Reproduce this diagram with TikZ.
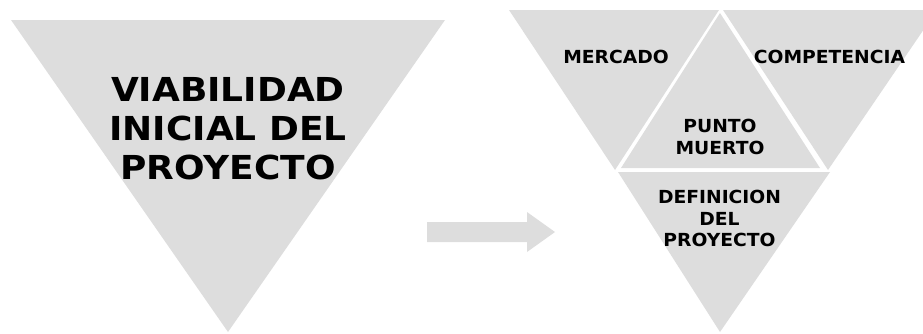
\documentclass[tikz,border=0pt]{standalone}
\usepackage{fontspec}
\setmainfont{DejaVu Sans}
\newfontfamily\bigfont[FakeStretch=1.09]{DejaVu Sans}
\newfontfamily\smallfont[FakeStretch=1.04]{DejaVu Sans}
\definecolor{tri}{HTML}{DDDDDD}
\begin{document}
\begin{tikzpicture}[x=1pt,y=-1pt,
  shape fill/.style={fill=tri, draw=none},
  biglbl/.style={font=\bigfont\bfseries\fontsize{33}{39}\selectfont, align=center, inner sep=0pt},
  lbl/.style={font=\smallfont\bfseries\fontsize{18}{21.8}\selectfont, align=center, inner sep=0pt}]
\useasboundingbox (0,0) rectangle (923,333);
\clip (0,0) rectangle (923,333);
% left triangle
\fill[shape fill] (11,20) -- (445,20) -- (228,332) -- cycle;
\node[biglbl] (viab) at (228,129) {VIABILIDAD\\INICIAL DEL\hspace*{0.34em}\\PROYECTO};
% block arrow
\fill[shape fill] (427,222) -- (527,222) -- (527,212) -- (555,232) -- (527,252) -- (527,242) -- (427,242) -- cycle;
% right composite triangle
\fill[shape fill] (509,10) -- (719,10) -- (615,170) -- cycle;
\fill[shape fill] (720,13) -- (621,168) -- (820,168) -- cycle;
\fill[shape fill] (723,10) -- (937,10) -- (828,170) -- cycle;
\fill[shape fill] (618,172) -- (830,172) -- (720,332) -- cycle;
\node[lbl] (merc) at (616,56.5) {MERCADO};
\node[lbl] (comp) at (829.5,56.5) {COMPETENCIA};
\node[lbl] (punto) at (720,137) {PUNTO\\MUERTO};
\node[lbl] (defi) at (719.5,218.5) {DEFINICION\\DEL\\PROYECTO};
\end{tikzpicture}
\end{document}
